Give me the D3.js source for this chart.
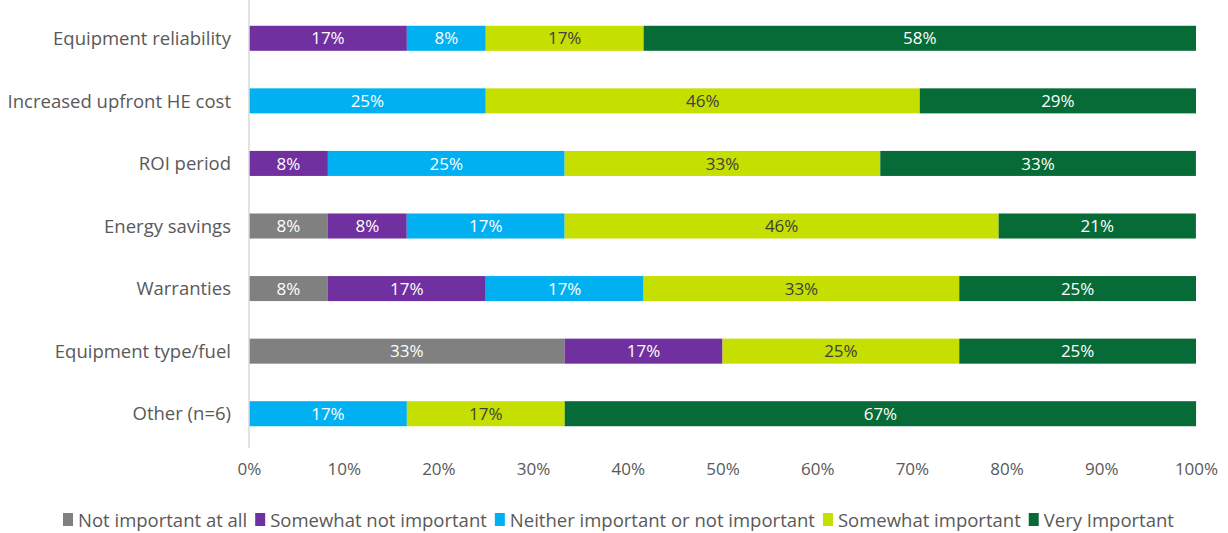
<!DOCTYPE html>
<html>
<head>
<meta charset="utf-8">
<script src="https://cdn.jsdelivr.net/npm/d3@7"></script>
<style>
  body { margin: 0; background: #fff; }
  svg text { font-family: "Open Sans", Lato, sans-serif; }
</style>
</head>
<body>
<div id="chart"></div>
<script>
// Categories (top to bottom)
const categories = ["Equipment reliability", "Increased upfront HE cost", "ROI period",
    "Energy savings", "Warranties", "Equipment type/fuel", "Other (n=6)"];

// Series names and colours
const seriesNames = ["Not important at all", "Somewhat not important",
    "Neither important or not important", "Somewhat important", "Very Important"];
const seriesColors = ["#808080", "#7030A0", "#00B0F0", "#C4DF00", "#066B37"];
const labelColors = ["#ffffff", "#ffffff", "#ffffff", "#404040", "#ffffff"];

// Percent values per series, one per category
const notImportant      = [0, 0, 0, 8.33, 8.33, 33.33, 0];
const somewhatNot       = [16.67, 0, 8.33, 8.33, 16.67, 16.67, 0];
const neither           = [8.33, 25, 25, 16.67, 16.67, 0, 16.67];
const somewhatImportant = [16.67, 45.83, 33.33, 45.83, 33.33, 25, 16.67];
const veryImportant     = [58.33, 29.17, 33.33, 20.83, 25, 25, 66.67];

const tickValues = [0, 10, 20, 30, 40, 50, 60, 70, 80, 90, 100];

const seriesValues = [notImportant, somewhatNot, neither, somewhatImportant, veryImportant];

const width = 1228, height = 533;
const svg = d3.select("#chart").append("svg")
    .attr("width", width)
    .attr("height", height);

const x = d3.scaleLinear().domain([0, 100]).range([249, 1196]);
const y = d3.scaleBand().domain(categories).range([7, 445]).paddingInner(0.6).paddingOuter(0.3);

// Build stacked rows
const rows = categories.map((c, i) => {
    const row = { category: c };
    seriesNames.forEach((s, j) => row[s] = seriesValues[j][i]);
    return row;
});
const stacked = d3.stack().keys(seriesNames)(rows);

// Bars
stacked.forEach((layer, j) => {
    const g = svg.append("g");
    g.selectAll("rect")
        .data(layer)
        .enter()
        .append("rect")
        .attr("x", d => x(d[0]))
        .attr("y", d => y(d.data.category))
        .attr("width", d => x(d[1]) - x(d[0]))
        .attr("height", y.bandwidth())
        .attr("fill", seriesColors[j]);

    g.selectAll("text")
        .data(layer.filter(d => d[1] - d[0] > 0))
        .enter()
        .append("text")
        .attr("x", d => (x(d[0]) + x(d[1])) / 2)
        .attr("y", d => y(d.data.category) + y.bandwidth() / 2)
        .attr("dy", "0.36em")
        .attr("text-anchor", "middle")
        .attr("fill", labelColors[j])
        .style("font-size", "17px")
        .text(d => Math.round(d[1] - d[0]) + "%");
});

// Vertical axis line
svg.append("line")
    .attr("x1", x(0)).attr("x2", x(0))
    .attr("y1", 0).attr("y2", 448)
    .attr("stroke", "#d9d9d9")
    .attr("stroke-width", 1.5);

// Category labels
svg.append("g").selectAll("text")
    .data(categories)
    .enter()
    .append("text")
    .attr("x", 231)
    .attr("y", d => y(d) + y.bandwidth() / 2)
    .attr("dy", "0.36em")
    .attr("text-anchor", "end")
    .attr("fill", "#595959")
    .style("font-size", "18.5px")
    .text(d => d);

// X axis
const xAxis = svg.append("g")
    .attr("transform", "translate(0,460)")
    .call(d3.axisBottom(x).tickValues(tickValues).tickFormat(d => d + "%").tickSize(0));
xAxis.select(".domain").remove();
xAxis.selectAll("text")
    .attr("fill", "#595959")
    .style("font-size", "17px")
    .style("font-family", "'Open Sans', Lato, sans-serif");

// Legend
const legend = svg.append("g").attr("transform", "translate(0,520)");
let lx = 63;
seriesNames.forEach((name, j) => {
    legend.append("rect")
        .attr("x", lx)
        .attr("y", -7)
        .attr("width", 10)
        .attr("height", 13)
        .attr("fill", seriesColors[j]);
    const t = legend.append("text")
        .attr("x", lx + 15)
        .attr("y", 0)
        .attr("dy", "0.36em")
        .attr("fill", "#595959")
        .style("font-size", "18.5px")
        .text(name);
    lx += 15 + t.node().getComputedTextLength() + 8;
});
</script>
</body>
</html>
